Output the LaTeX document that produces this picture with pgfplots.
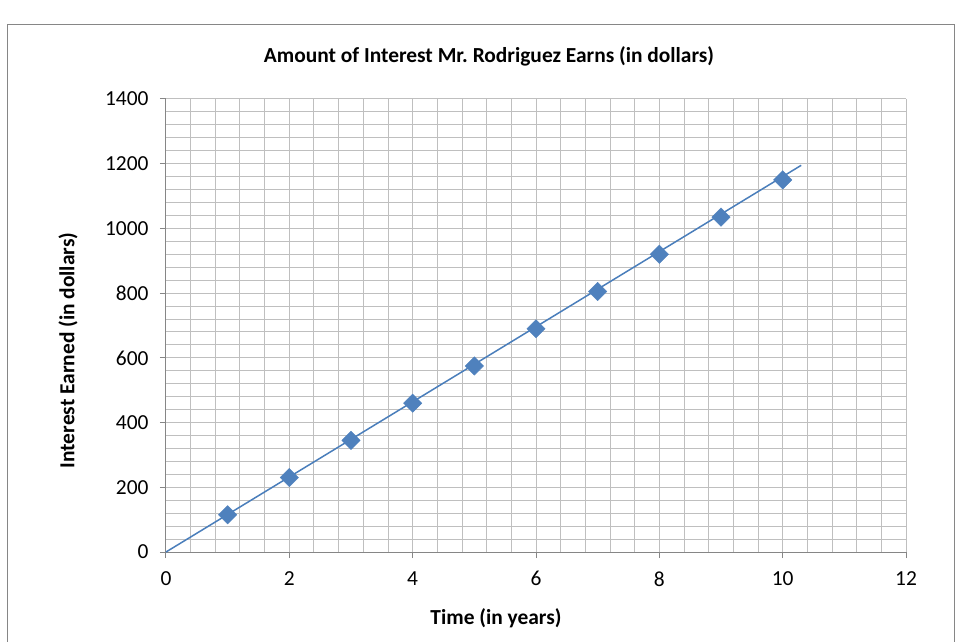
\documentclass[border=0pt]{standalone}
\usepackage{fontspec}
\setmainfont{Carlito}
\usepackage{pgfplots}
\pgfplotsset{compat=1.18}
\definecolor{exblue}{HTML}{4F81BD}
\definecolor{exline}{HTML}{4A7EBB}
\definecolor{gridgray}{HTML}{BFBFBF}
\definecolor{axgray}{HTML}{868686}
\begin{document}
\begin{tikzpicture}
\useasboundingbox (-166bp,-90bp) rectangle (790bp,552bp);
\draw[axgray, line width=1bp] (-158bp,-95bp) -- (-158bp,527bp) -- (788bp,527bp) -- (788bp,-95bp);
\begin{axis}[
  scale only axis,
  width=740bp, height=453bp,
  xmin=0, xmax=12, ymin=0, ymax=1400,
  xtick={0,2,...,12}, ytick={0,200,...,1400},
  minor x tick num=4, minor y tick num=4,
  grid=both,
  major grid style={gridgray, line width=1bp},
  minor grid style={gridgray, line width=1bp},
  axis line style={axgray, line width=1bp},
  tick style={axgray, line width=1bp},
  tick align=outside,
  major tick length=6bp, minor tick length=0pt,
  axis x line*=bottom, axis y line*=left,
  /pgf/number format/assume math mode=true,
  /pgf/number format/1000 sep={},
  tick label style={font=\fontsize{21.5}{24}\selectfont},
  xticklabel style={yshift=-10bp},
  yticklabel style={xshift=-8bp},
  title={\textbf{Amount of Interest Mr.\ Rodriguez Earns (in dollars)}},
  title style={font=\fontsize{21.5}{24}\selectfont, at={(0.5,1)}, anchor=center, yshift=37bp, xshift=-47bp},
  xlabel={\textbf{Time (in years)}},
  xlabel style={font=\fontsize{21.5}{24}\selectfont, at={(0.5,0)}, anchor=center, yshift=-66bp, xshift=-40bp},
  ylabel={\textbf{Interest Earned (in dollars)}},
  ylabel style={font=\fontsize{21.5}{24}\selectfont, at={(0,0.5)}, anchor=center, yshift=98bp, xshift=-25bp},
  clip=false,
]
\addplot[exline, line width=1.5bp, no marks] coordinates {(0,0) (10.3,1195)};
\addplot[only marks, mark=square*, mark size=6.5bp, mark options={rotate=45, fill=exblue, draw=exblue}] coordinates {
(1,115) (2,230) (3,345) (4,460) (5,575) (6,690) (7,805) (8,920) (9,1035) (10,1150)
};
\end{axis}
\end{tikzpicture}
\end{document}
